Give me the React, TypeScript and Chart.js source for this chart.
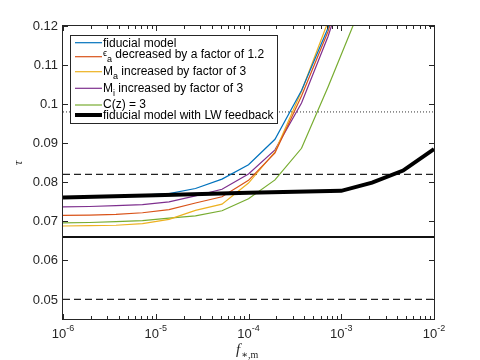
import React, { useEffect, useRef } from "react";
import { Chart, registerables } from "chart.js";

Chart.register(...registerables);

// ---- data ----
const X_GRID = [1e-6, 1.93e-6, 3.73e-6, 7.2e-6, 1.39e-5, 2.68e-5, 5.18e-5, 1e-4, 1.93e-4, 3.73e-4, 7.2e-4, 1.39e-3];
const FIDUCIAL = [0.0762, 0.0763, 0.0765, 0.0767, 0.0771, 0.0784, 0.0808, 0.0845, 0.091, 0.1035, 0.1195, 0.142];
const EPS_A = [0.0715, 0.0716, 0.0718, 0.0722, 0.073, 0.0747, 0.0763, 0.0805, 0.0875, 0.1021, 0.1186, 0.14];
const M_A = [0.0688, 0.0689, 0.069, 0.0694, 0.0705, 0.0728, 0.0744, 0.0798, 0.0878, 0.1033, 0.1211, 0.145];
const M_I = [0.0737, 0.0738, 0.074, 0.0743, 0.075, 0.0765, 0.0782, 0.0821, 0.0883, 0.1003, 0.1173, 0.138];
const C_Z = [0.0696, 0.0697, 0.0699, 0.0702, 0.0708, 0.0714, 0.0727, 0.0758, 0.0806, 0.0887, 0.1044, 0.121];
const LW_X = [1e-6, 1e-5, 1e-4, 1e-3, 2.15e-3, 4.64e-3, 1e-2];
const LW_Y = [0.0761, 0.0767, 0.0773, 0.0778, 0.0799, 0.083, 0.0885];
const REF_X = [1e-6, 1e-2];
const REF_DASHED = [0.082, 0.05];
const REF_SOLID = 0.066;
const REF_DOTTED = 0.098;
const Y_TICKS = [0.05, 0.06, 0.07, 0.08, 0.09, 0.1, 0.11, 0.12];
const Y_TICK_LABELS = ["0.05", "0.06", "0.07", "0.08", "0.09", "0.1", "0.11", "0.12"];
const X_TICKS = [1e-6, 1e-5, 1e-4, 1e-3, 1e-2];
const X_TICK_EXP = ["-6", "-5", "-4", "-3", "-2"];

const COLORS = ["#0072BD", "#D95319", "#EDB120", "#7E2F8E", "#77AC30"];
const AX = "#262626";

type Seg = { t: string; size: number; dy: number };
const LEGEND_ROWS: { color: string; width: number; lineY: number; base: number; segs: Seg[] }[] = [
  { color: COLORS[0], width: 1.2, lineY: 42.7, base: 46.7, segs: [{ t: "fiducial model", size: 12, dy: 0 }] },
  {
    color: COLORS[1], width: 1.2, lineY: 56.7, base: 57.5,
    segs: [
      { t: "ϵ", size: 9, dy: -1.5 },
      { t: "a", size: 9, dy: 4 },
      { t: " decreased by a factor of 1.2", size: 12, dy: 0 },
    ],
  },
  {
    color: COLORS[2], width: 1.2, lineY: 71.7, base: 75,
    segs: [
      { t: "M", size: 12, dy: 0 },
      { t: "a", size: 9, dy: 4 },
      { t: " increased by factor of 3", size: 12, dy: 0 },
    ],
  },
  {
    color: COLORS[3], width: 1.2, lineY: 88.3, base: 91.5,
    segs: [
      { t: "M", size: 12, dy: 0 },
      { t: "i", size: 9, dy: 4 },
      { t: " increased by factor of 3", size: 12, dy: 0 },
    ],
  },
  { color: COLORS[4], width: 1.2, lineY: 105, base: 108.3, segs: [{ t: "C(z) = 3", size: 12, dy: 0 }] },
  { color: "#000000", width: 4, lineY: 115, base: 119, segs: [{ t: "fiducial model with LW feedback", size: 12, dy: 0 }] },
];

const SANS = "'Liberation Sans', Arial, Helvetica, sans-serif";
const SERIF = "'Liberation Serif', 'DejaVu Serif', serif";

function pts(xs: number[], ys: number[]) {
  return xs.map((x, i) => ({ x, y: ys[i] }));
}

const decorPlugin = {
  id: "decor",
  afterDraw(chart: any) {
    const ctx = chart.ctx as CanvasRenderingContext2D;
    const { left, right, top, bottom } = chart.chartArea;
    const xs = chart.scales.x;
    const ys = chart.scales.y;
    ctx.save();
    ctx.strokeStyle = AX;
    ctx.lineWidth = 1;
    // ticks
    ctx.beginPath();
    Y_TICKS.forEach((v) => {
      const y = Math.round(ys.getPixelForValue(v)) + 0.5;
      ctx.moveTo(left, y);
      ctx.lineTo(left + 5, y);
      ctx.moveTo(right, y);
      ctx.lineTo(right - 5, y);
    });
    for (let d = -6; d <= -2; d++) {
      for (let m = 1; m <= 9; m++) {
        const v = m * Math.pow(10, d);
        if (v > 1e-2 + 1e-12) break;
        const x = Math.round(xs.getPixelForValue(v)) + 0.5;
        const len = m === 1 ? 5 : 3;
        ctx.moveTo(x, bottom);
        ctx.lineTo(x, bottom - len);
        ctx.moveTo(x, top);
        ctx.lineTo(x, top + len);
      }
    }
    ctx.stroke();
    // box
    ctx.strokeRect(left - 0.5, top - 0.5, right - left + 1, bottom - top + 1);

    // y tick labels
    ctx.fillStyle = AX;
    ctx.font = `13px ${SANS}`;
    ctx.textAlign = "right";
    ctx.textBaseline = "middle";
    Y_TICKS.forEach((v, i) => {
      ctx.fillText(Y_TICK_LABELS[i], left - 5, ys.getPixelForValue(v) + 0.5);
    });
    // x tick labels with superscript
    ctx.textAlign = "left";
    ctx.textBaseline = "alphabetic";
    X_TICKS.forEach((v, i) => {
      const x = xs.getPixelForValue(v);
      ctx.font = `13px ${SANS}`;
      const w1 = ctx.measureText("10").width;
      ctx.font = `9px ${SANS}`;
      const w2 = ctx.measureText(X_TICK_EXP[i]).width;
      const x0 = x - (w1 + w2) / 2;
      ctx.font = `13px ${SANS}`;
      ctx.fillText("10", x0, 338);
      ctx.font = `9px ${SANS}`;
      ctx.fillText(X_TICK_EXP[i], x0 + w1, 331);
    });
    // axis labels
    ctx.font = `italic 15px ${SERIF}`;
    ctx.fillText("f", 236, 354);
    const fw = ctx.measureText("f").width;
    ctx.font = `10px ${SERIF}`;
    ctx.fillText("∗,m", 236 + fw + 1, 358);
    ctx.save();
    ctx.translate(22, 163);
    ctx.rotate(-Math.PI / 2);
    ctx.textAlign = "center";
    ctx.font = `italic 13px ${SERIF}`;
    ctx.fillText("τ", 0, 0);
    ctx.restore();

    // legend
    const lx0 = 70, ly0 = 35, lx1 = 277, ly1 = 123;
    ctx.fillStyle = "#ffffff";
    ctx.fillRect(lx0, ly0, lx1 - lx0, ly1 - ly0);
    ctx.strokeStyle = AX;
    ctx.lineWidth = 1;
    ctx.strokeRect(lx0 + 0.5, ly0 + 0.5, lx1 - lx0, ly1 - ly0);
    LEGEND_ROWS.forEach((r) => {
      ctx.strokeStyle = r.color;
      ctx.lineWidth = r.width;
      ctx.beginPath();
      ctx.moveTo(75, r.lineY);
      ctx.lineTo(102, r.lineY);
      ctx.stroke();
      let tx = 103;
      ctx.fillStyle = "#000000";
      r.segs.forEach((s) => {
        ctx.font = `${s.size}px ${SANS}`;
        ctx.fillText(s.t, tx, r.base + s.dy);
        tx += ctx.measureText(s.t).width;
      });
    });
    ctx.restore();
  },
};

export default function App() {
  const ref = useRef<HTMLCanvasElement | null>(null);
  useEffect(() => {
    document.body.style.margin = "0";
    const canvas = ref.current;
    if (!canvas) return;
    const line = (data: any[], color: string, width: number, order: number, dash: number[] = []) => ({
      data,
      borderColor: color,
      backgroundColor: color,
      borderWidth: width,
      borderDash: dash,
      pointRadius: 0,
      tension: 0,
      fill: false,
      clip: 0,
      order,
    });
    const chart = new Chart(canvas, {
      type: "line",
      data: {
        datasets: [
          line(pts(LW_X, LW_Y), "#000000", 4, 0),
          line(pts(X_GRID, FIDUCIAL), COLORS[0], 1.2, 1),
          line(pts(X_GRID, EPS_A), COLORS[1], 1.2, 2),
          line(pts(X_GRID, M_A), COLORS[2], 1.2, 3),
          line(pts(X_GRID, M_I), COLORS[3], 1.2, 4),
          line(pts(X_GRID, C_Z), COLORS[4], 1.2, 5),
          line(pts(REF_X, [REF_DASHED[0], REF_DASHED[0]]), "#222222", 1.3, 6, [7, 4]),
          line(pts(REF_X, [REF_DASHED[1], REF_DASHED[1]]), "#222222", 1.3, 7, [7, 4]),
          line(pts(REF_X, [REF_SOLID, REF_SOLID]), "#111111", 2, 8),
          line(pts(REF_X, [REF_DOTTED, REF_DOTTED]), "#333333", 1, 9, [1, 2]),
        ] as any,
      },
      options: {
        animation: false,
        responsive: false,
        devicePixelRatio: 1,
        parsing: true,
        layout: { padding: { left: 63, right: 46, top: 26, bottom: 41 } },
        plugins: { legend: { display: false }, tooltip: { enabled: false } },
        scales: {
          x: { type: "logarithmic", min: 1e-6, max: 1e-2, display: false },
          y: { type: "linear", min: 0.045, max: 0.12, display: false },
        },
      } as any,
      plugins: [decorPlugin],
    });
    return () => chart.destroy();
  }, []);
  return (
    <div style={{ width: 480, height: 360, background: "#ffffff" }}>
      <canvas ref={ref} width={480} height={360} style={{ display: "block" }} />
    </div>
  );
}
